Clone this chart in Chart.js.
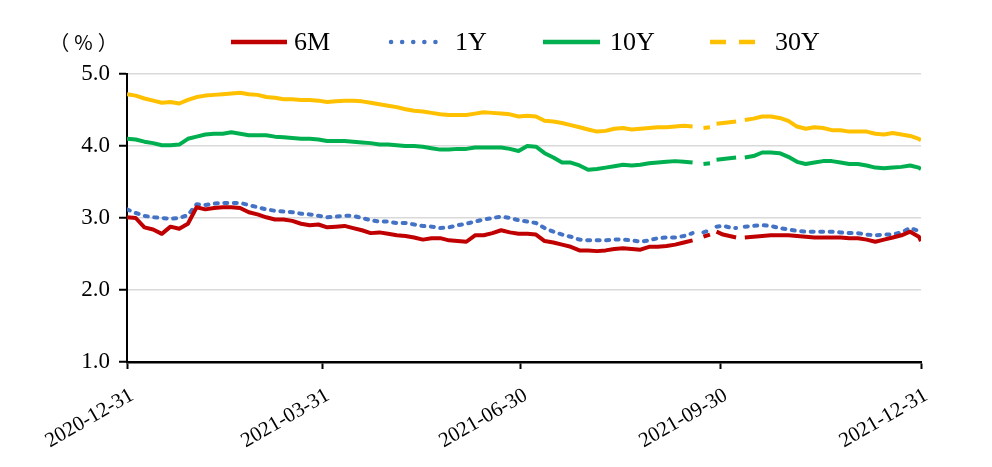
<!DOCTYPE html>
<html>
<head>
<meta charset="utf-8">
<script src="https://cdn.jsdelivr.net/npm/chart.js@4.4.1/dist/chart.umd.min.js"></script>
<style>
  html, body { margin: 0; padding: 0; background: #fff; }
  #wrap { width: 992px; height: 467px; position: relative; }
</style>
</head>
<body>
<div id="wrap"><canvas id="c" width="992" height="467"></canvas></div>
<script>
// ---- DATA ----
// day offsets from 2020-12-31 (null values mark holiday gaps)
const days = [
  0,4,8,12,16,20,24,28,32,36,
  40,44,48,52,56,60,64,68,72,76,
  80,84,88,92,96,100,104,108,112,116,
  120,124,128,132,136,140,144,148,152,156,
  160,164,168,172,176,180,184,188,192,196,
  200,204,208,212,216,220,224,228,232,236,
  240,244,248,252,256,260,
  262,265,268,269.5,271,274,277,280,282,284,
  288,292,296,300,304,308,312,316,320,324,
  328,332,336,340,344,348,352,356,360,364,
  365
];
const seriesNames = ['6M', '1Y', '10Y', '30Y'];
const y6M = [
  3.01,3.00,2.87,2.84,2.78,2.88,2.85,2.92,3.15,3.12,
  3.14,3.15,3.15,3.14,3.08,3.05,3.01,2.98,2.98,2.96,
  2.92,2.90,2.91,2.87,2.88,2.89,2.86,2.83,2.79,2.80,
  2.78,2.76,2.75,2.73,2.70,2.72,2.72,2.69,2.68,2.67,
  2.76,2.76,2.79,2.83,2.80,2.78,2.78,2.77,2.68,2.66,
  2.63,2.60,2.55,2.55,2.54,2.55,2.57,2.58,2.57,2.56,
  2.60,2.60,2.61,2.63,2.66,2.69,
  null,2.74,2.77,null,2.81,2.77,2.75,2.73,null,2.73,
  2.74,2.75,2.76,2.76,2.76,2.75,2.74,2.73,2.73,2.73,
  2.73,2.72,2.72,2.70,2.67,2.70,2.73,2.76,2.81,2.74,
  2.68
];
const y1Y = [
  3.12,3.07,3.03,3.01,3.00,2.99,3.00,3.04,3.19,3.18,
  3.20,3.21,3.21,3.21,3.18,3.15,3.12,3.10,3.09,3.08,
  3.06,3.05,3.03,3.01,3.02,3.03,3.03,3.00,2.97,2.95,
  2.95,2.93,2.93,2.91,2.89,2.88,2.86,2.87,2.90,2.92,
  2.95,2.98,3.00,3.02,3.00,2.97,2.95,2.93,2.86,2.81,
  2.77,2.74,2.70,2.69,2.69,2.69,2.70,2.70,2.69,2.67,
  2.69,2.72,2.73,2.73,2.75,2.79,
  null,2.80,2.83,null,2.88,2.89,2.87,2.86,null,2.88,
  2.89,2.90,2.89,2.86,2.84,2.82,2.81,2.81,2.81,2.81,
  2.80,2.79,2.79,2.77,2.76,2.77,2.77,2.80,2.86,2.82,
  2.78
];
const y10Y = [
  4.10,4.09,4.06,4.04,4.01,4.01,4.02,4.10,4.13,4.16,
  4.17,4.17,4.19,4.17,4.15,4.15,4.15,4.13,4.12,4.11,
  4.10,4.10,4.09,4.07,4.07,4.07,4.06,4.05,4.04,4.02,
  4.02,4.01,4.00,4.00,3.99,3.97,3.95,3.95,3.96,3.96,
  3.98,3.98,3.98,3.98,3.96,3.93,4.00,3.99,3.90,3.84,
  3.77,3.77,3.73,3.67,3.68,3.70,3.72,3.74,3.73,3.74,
  3.76,3.77,3.78,3.79,3.78,3.77,
  null,3.75,3.76,null,3.81,3.82,3.83,3.84,null,3.84,
  3.86,3.91,3.91,3.90,3.85,3.78,3.75,3.77,3.79,3.79,
  3.77,3.75,3.75,3.73,3.70,3.69,3.70,3.71,3.73,3.70,
  3.68
];
const y30Y = [
  4.72,4.70,4.66,4.63,4.60,4.61,4.59,4.64,4.68,4.70,
  4.71,4.72,4.73,4.74,4.72,4.71,4.68,4.67,4.65,4.65,
  4.64,4.64,4.63,4.61,4.62,4.63,4.63,4.62,4.60,4.58,
  4.56,4.54,4.51,4.49,4.48,4.46,4.44,4.43,4.43,4.43,
  4.45,4.47,4.46,4.45,4.44,4.41,4.42,4.41,4.35,4.34,
  4.32,4.29,4.26,4.23,4.20,4.21,4.24,4.25,4.23,4.24,
  4.25,4.26,4.26,4.27,4.28,4.27,
  null,4.25,4.26,null,4.31,4.32,4.33,4.34,null,4.36,
  4.38,4.41,4.41,4.39,4.35,4.27,4.24,4.26,4.25,4.22,
  4.22,4.20,4.20,4.20,4.17,4.16,4.18,4.16,4.14,4.10,
  4.08
];
const tickDays = [0, 90, 181, 273, 365];
const tickLabels = ['2020-12-31', '2021-03-31', '2021-06-30', '2021-09-30', '2021-12-31'];
const yTicks = [1, 2, 3, 4, 5];
const unitLabel = '（%）';

// ---- CHART ----
const SERIF = "'Liberation Serif', 'Times New Roman', Tinos, serif";
const toXY = arr => days.map((d, i) => ({ x: d, y: arr[i] }));

const datasets = [
  { label: seriesNames[0], data: toXY(y6M), borderColor: '#c00000', borderWidth: 4,
    legend: { x0: 231, x1: 287, tx: 294, dash: [], cap: 'butt', w: 4.5 } },
  { label: seriesNames[1], data: toXY(y1Y), borderColor: '#4472c4', borderWidth: 4,
    borderDash: [3, 6.5], borderCapStyle: 'round',
    legend: { x0: 391, x1: 436, tx: 455, dash: [0.1, 11], cap: 'round', w: 4.5 } },
  { label: seriesNames[2], data: toXY(y10Y), borderColor: '#00b050', borderWidth: 4,
    legend: { x0: 543, x1: 600, tx: 610, dash: [], cap: 'butt', w: 4.5 } },
  { label: seriesNames[3], data: toXY(y30Y), borderColor: '#ffc000', borderWidth: 4,
    legend: { x0: 710, x1: 756, tx: 775, dash: [16, 13], cap: 'butt', w: 4.5 } }
];
datasets.forEach(ds => { ds.pointRadius = 0; ds.pointHoverRadius = 0; ds.tension = 0; ds.fill = false; ds.spanGaps = false; });

const legendPlugin = {
  id: 'customLegend',
  afterDraw(chart) {
    const ctx = chart.ctx;
    const cy = 42;
    ctx.save();
    chart.data.datasets.forEach(ds => {
      const L = ds.legend;
      ctx.beginPath();
      ctx.strokeStyle = ds.borderColor;
      ctx.lineWidth = L.w;
      ctx.lineCap = L.cap;
      ctx.setLineDash(L.dash);
      ctx.moveTo(L.x0, cy);
      ctx.lineTo(L.x1, cy);
      ctx.stroke();
      ctx.setLineDash([]);
      ctx.fillStyle = '#000';
      ctx.font = '26px ' + SERIF;
      ctx.textAlign = 'left';
      ctx.textBaseline = 'middle';
      ctx.fillText(ds.label, L.tx, cy + 1);
    });
    ctx.font = "20px 'Noto Sans CJK SC', sans-serif";
    if ('letterSpacing' in ctx) ctx.letterSpacing = '5px';
    ctx.textAlign = 'center';
    ctx.textBaseline = 'middle';
    ctx.fillStyle = '#000';
    ctx.fillText(unitLabel, 86, 42);
    ctx.restore();
  }
};

function build() {
  new Chart(document.getElementById('c'), {
    type: 'line',
    data: { datasets },
    options: {
      responsive: false,
      animation: false,
      devicePixelRatio: 1,
      layout: { padding: { top: 74, right: 71, left: 0, bottom: 0 } },
      plugins: { legend: { display: false }, tooltip: { enabled: false } },
      elements: { line: { borderJoinStyle: 'round' } },
      scales: {
        x: {
          type: 'linear', min: tickDays[0], max: tickDays[tickDays.length - 1],
          afterBuildTicks: s => { s.ticks = tickDays.map(v => ({ value: v })); },
          afterFit: s => { s.height = 105; },
          grid: { drawOnChartArea: false, drawTicks: true, tickLength: 7, tickColor: '#000', tickWidth: 2 },
          border: { display: true, color: '#000', width: 2.5 },
          ticks: {
            autoSkip: false, maxRotation: 30, minRotation: 30, padding: 14, labelOffset: 5,
            color: '#000', font: { family: SERIF, size: 21 },
            callback: v => { const i = tickDays.indexOf(v); return i >= 0 ? tickLabels[i] : ''; }
          }
        },
        y: {
          min: yTicks[0], max: yTicks[yTicks.length - 1],
          afterBuildTicks: s => { s.ticks = yTicks.map(v => ({ value: v })); },
          afterFit: s => { s.width = 127; },
          grid: { color: '#d9d9d9', lineWidth: 1.5, drawTicks: true, tickLength: 8, tickColor: '#000', tickWidth: 2 },
          border: { display: true, color: '#000', width: 2 },
          ticks: {
            padding: 9, color: '#000', font: { family: SERIF, size: 23 },
            callback: v => Number(v).toFixed(1)
          }
        }
      }
    },
    plugins: [legendPlugin]
  });
}

const fontLoads = [
  "26px 'Liberation Serif'", "21px 'Liberation Serif'", "20px 'Noto Sans CJK SC'"
].map(f => document.fonts.load(f, '（%）6M1Y0.'));
Promise.all(fontLoads).then(build, build);
</script>
</body>
</html>
